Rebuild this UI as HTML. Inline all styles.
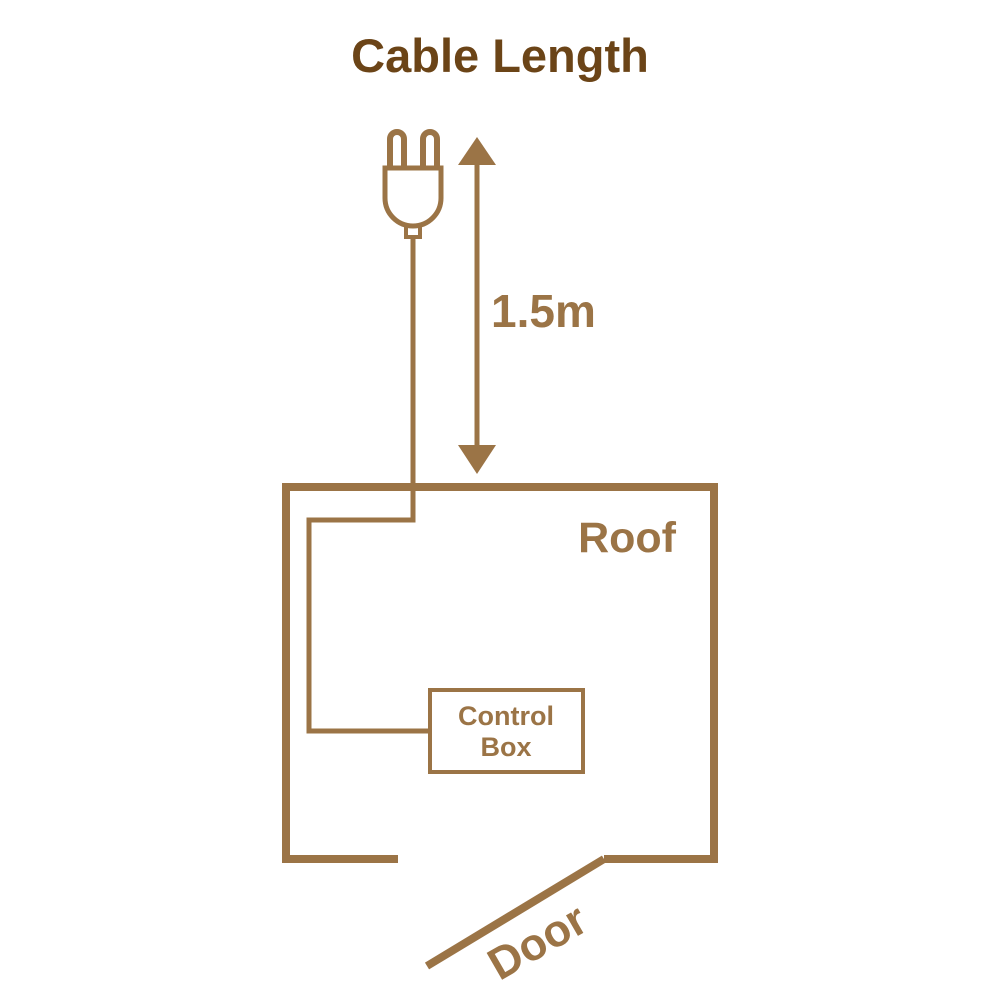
<!DOCTYPE html>
<html><head><style>body{margin:0;background:#fff}</style></head><body>
<svg width="1000" height="1000" viewBox="0 0 1000 1000" xmlns="http://www.w3.org/2000/svg">
<text x="500" y="72" text-anchor="middle" font-family="Liberation Sans, sans-serif" font-weight="bold" font-size="47" fill="#6b4417">Cable Length</text>
<g fill="none" stroke="#9b7446">
<path d="M390 168 V139 a7 7 0 0 1 14 0 V168 M423 168 V139 a7 7 0 0 1 14 0 V168" stroke-width="6"/>
<path d="M385 168 H441 V198 a28 28 0 0 1 -28 28 a28 28 0 0 1 -28 -28 Z" stroke-width="5"/>
<rect x="406" y="226" width="14" height="11" stroke-width="4"/>
<path d="M413 237 V520 H309 V731 H430" stroke-width="5"/>
<rect x="430" y="690" width="153" height="82" stroke-width="4"/>
<path d="M398 859 H286 V487 H714 V859 H604" stroke-width="8"/>
<line x1="427" y1="966" x2="604" y2="859" stroke-width="8"/>
<line x1="477" y1="160" x2="477" y2="450" stroke-width="5"/>
</g>
<polygon points="477,137 458,165 496,165" fill="#9b7446"/>
<polygon points="477,474 458,445 496,445" fill="#9b7446"/>
<g font-family="Liberation Sans, sans-serif" font-weight="bold" fill="#9b7446">
<text x="491" y="327" font-size="46">1.5m</text>
<text x="676" y="552" font-size="43" text-anchor="end">Roof</text>
<text x="506" y="725" font-size="27" text-anchor="middle">Control</text>
<text x="506" y="756" font-size="27" text-anchor="middle">Box</text>
<text x="0" y="0" font-size="45" text-anchor="middle" transform="translate(545,955) rotate(-30)">Door</text>
</g>
</svg>
</body></html>
